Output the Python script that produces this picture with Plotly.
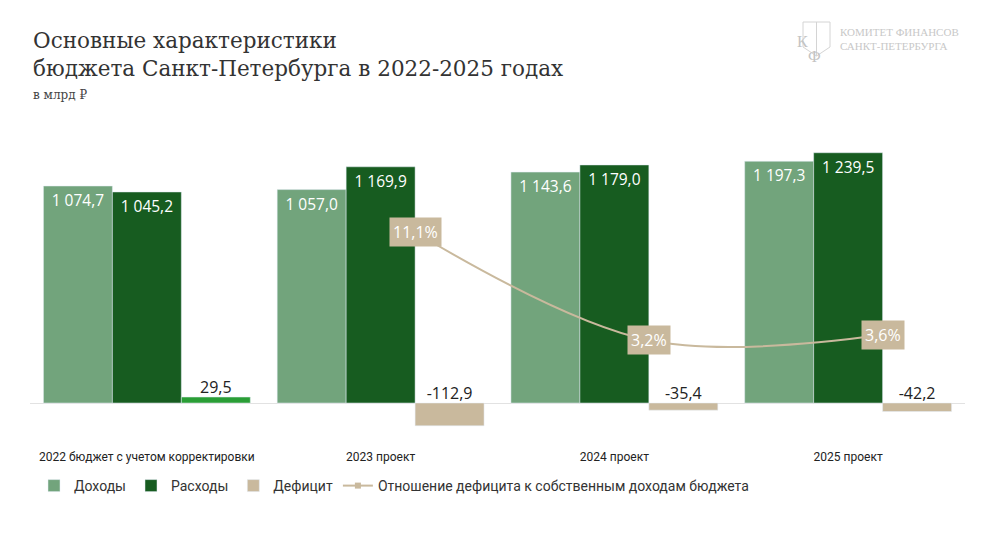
import plotly.graph_objects as go

categories = ["2022 бюджет с учетом корректировки", "2023 проект", "2024 проект", "2025 проект"]
income = [1074.7, 1057.0, 1143.6, 1197.3]
expenses = [1045.2, 1169.9, 1179.0, 1239.5]
deficit = [29.5, -112.9, -35.4, -42.2]
deficit_ratio_years = [1, 2, 3]
deficit_ratio = [11.1, 3.2, 3.6]

c_income = "#72a47c"
c_expenses = "#175c20"
c_deficit = "#c9b99d"
c_surplus = "#2a9e36"

# the page adds an 8px body margin, so everything is laid out 8px up/left
OFF = 8
# plot area in reference pixels
L, R, T, B = 30, 965, 140, 440
ZERO_Y, Y2_ZERO = 403, 384


def px(x):
    return (x - L) / (R - L)


def py(y):
    return (B - y) / (B - T)


def fmt(v):
    return f"{v:,.1f}".replace(",", " ").replace(".", ",")


w = 0.295
xs = list(range(len(categories)))
label_font = dict(color="white", size=15.5, family="Open Sans")

fig = go.Figure()
fig.add_trace(go.Bar(
    x=xs, y=income, name="Доходы", marker_color=c_income, width=w, offset=-1.5 * w,
    text=[fmt(v) for v in income], textposition="inside", insidetextanchor="end",
    textfont=label_font, textangle=0,
))
fig.add_trace(go.Bar(
    x=xs, y=expenses, name="Расходы", marker_color=c_expenses, width=w, offset=-0.5 * w,
    text=[fmt(v) for v in expenses], textposition="inside", insidetextanchor="end",
    textfont=label_font, textangle=0,
))
fig.add_trace(go.Bar(
    x=xs, y=deficit, name="Дефицит", showlegend=False, width=w, offset=0.5 * w,
    marker_color=[c_surplus if v > 0 else c_deficit for v in deficit],
))
# legend entry for deficit (beige)
fig.add_trace(go.Bar(x=[None], y=[None], name="Дефицит", marker_color=c_deficit))
fig.add_trace(go.Scatter(
    x=[i + w for i in xs], y=[max(v, 0) for v in deficit], mode="text",
    text=[fmt(v) for v in deficit], textposition="top center",
    textfont=dict(color="#222", size=16, family="Open Sans"), showlegend=False,
))
fig.add_trace(go.Scatter(
    x=[i + 0.5 * w for i in deficit_ratio_years], y=deficit_ratio, yaxis="y2",
    mode="lines+markers", line=dict(color=c_deficit, width=2, shape="spline", smoothing=1),
    marker=dict(symbol="square", size=6, color=c_deficit),
    name="Отношение дефицита к собственным доходам бюджета",
))

for i, v in zip(deficit_ratio_years, deficit_ratio):
    fig.add_annotation(
        x=i + 0.5 * w, y=v, xref="x", yref="y2", text=f"{v:.1f}%".replace(".", ","),
        showarrow=False, bgcolor=c_deficit, borderpad=3,
        font=dict(color="white", size=16, family="Open Sans"),
    )

fig.add_annotation(
    x=px(31), y=py(26), xref="paper", yref="paper",
    text="Основные характеристики<br>бюджета Санкт-Петербурга в 2022-2025 годах",
    showarrow=False, xanchor="left", yanchor="top", align="left",
    font=dict(family="DejaVu Serif", size=21.5, color="#333333"),
)
fig.add_annotation(
    x=px(31), y=py(86), xref="paper", yref="paper", text="в млрд ₽",
    showarrow=False, xanchor="left", yanchor="top",
    font=dict(family="DejaVu Serif", size=12, color="#444444"),
)
# logo
fig.add_annotation(
    x=px(838), y=py(24), xref="paper", yref="paper",
    text="КОМИТЕТ ФИНАНСОВ<br>САНКТ-ПЕТЕРБУРГА",
    showarrow=False, xanchor="left", yanchor="top", align="left",
    font=dict(family="Liberation Serif", size=11, color="#c8c8c8"),
)
fig.add_shape(
    type="path", xref="paper", yref="paper",
    path=f"M {px(803)} {py(22)} L {px(830)} {py(22)} L {px(830)} {py(47)} "
         f"L {px(816.5)} {py(56)} L {px(803)} {py(47)} Z",
    line=dict(color="#d4d4d4", width=1),
)
fig.add_shape(
    type="line", xref="paper", yref="paper",
    x0=px(816.5), x1=px(816.5), y0=py(22), y1=py(56),
    line=dict(color="#d4d4d4", width=1),
)
fig.add_annotation(x=px(810), y=py(31), xref="paper", yref="paper", text="К", showarrow=False,
                   font=dict(family="Liberation Serif", size=16, color="#c4c4c4"))
fig.add_annotation(x=px(823), y=py(46), xref="paper", yref="paper", text="Ф", showarrow=False,
                   font=dict(family="Liberation Serif", size=16, color="#c4c4c4"))

fig.update_layout(
    width=990, height=557,
    margin=dict(l=L - OFF, r=990 - R + OFF, t=T - OFF, b=557 - B + OFF),
    paper_bgcolor="white", plot_bgcolor="white",
    barmode="overlay",
    font=dict(family="Roboto", size=12, color="#333333"),
    xaxis=dict(
        tickvals=xs, ticktext=categories, range=[-0.5, 3.5], showgrid=False,
        zeroline=False, showline=False, ticks="", ticklabelstandoff=8,
        tickfont=dict(family="Roboto", size=12, color="#222"),
    ),
    yaxis=dict(
        range=[-(B - ZERO_Y) / 0.2019, (ZERO_Y - T) / 0.2019], showgrid=False,
        showticklabels=False, zeroline=True, zerolinecolor="#e2e2e2", zerolinewidth=1,
    ),
    yaxis2=dict(
        range=[-(B - Y2_ZERO) / 13.67, (Y2_ZERO - T) / 13.67], overlaying="y", visible=False,
    ),
    legend=dict(
        orientation="h", x=px(34), y=py(470), xanchor="left", yanchor="top",
        font=dict(family="Roboto", size=14, color="#333"), itemwidth=30,
        traceorder="normal",
    ),
    showlegend=True,
)

fig.write_html("out.html")
